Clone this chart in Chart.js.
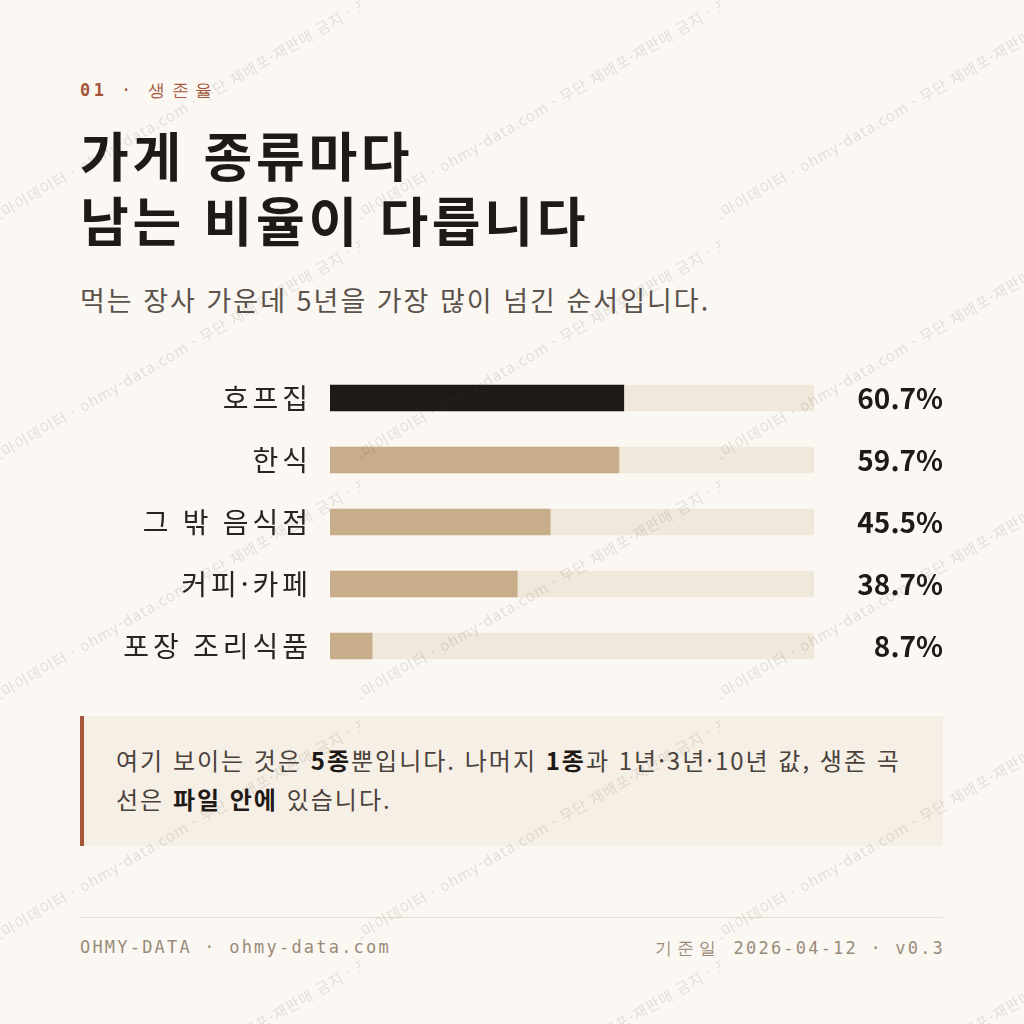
<!DOCTYPE html>
<html lang="ko">
<head>
<meta charset="UTF-8">
<meta name="viewport" content="width=device-width, initial-scale=1.0">
<title>생존율 | 가게 종류마다 남는 비율이 다릅니다</title>
<script src="https://cdn.jsdelivr.net/npm/chart.js"></script>
<style>
    html, body { margin: 0; padding: 0; }
    body {
        width: 1024px;
        height: 1024px;
        position: relative;
        overflow: hidden;
        background-color: #FBF8F3;
        font-family: 'Noto Sans CJK KR', 'Noto Sans', sans-serif;
        color: #1F1A17;
    }
    .kicker {
        position: absolute; left: 80px; top: 79px;
        font-family: 'DejaVu Sans Mono', monospace;
        font-size: 17px; letter-spacing: 0.2em; color: #A5553A;
        white-space: nowrap;
    }
    .kicker b { font-weight: 700; }
    .kicker .ko { letter-spacing: 6.5px; }
    h1 {
        position: absolute; left: 80px; top: 122px; margin: 0;
        font-size: 53px; line-height: 65px; font-weight: 700;
        color: #1F1A17; letter-spacing: 3.7px;
    }
    .subtitle {
        position: absolute; left: 80px; top: 282px; margin: 0;
        font-size: 27px; line-height: 36px; color: #5A524B;
        letter-spacing: 2px; white-space: nowrap;
    }
    .chart-wrap {
        position: absolute; left: 80px; top: 367px;
        width: 863px; height: 310px;
    }
    .note {
        position: absolute; left: 80px; top: 716px;
        width: 863px; height: 130px; box-sizing: border-box;
        padding: 24px 30px 0 32px;
        background: #F6EFE6; border-left: 4px solid #A5553A;
        font-size: 24px; line-height: 39px; color: #4A423B;
        letter-spacing: 2px;
    }
    .note b { color: #1F1A17; font-weight: 700; }
    .rule {
        position: absolute; left: 80px; top: 917px;
        width: 863px; height: 1px; background: #E7DFD4;
    }
    .footer {
        position: absolute; top: 937px;
        font-family: 'DejaVu Sans Mono', monospace;
        font-size: 17px; letter-spacing: 2.2px; color: #9A8B78;
        white-space: nowrap;
    }
    .footer.left { left: 80px; }
    .footer.right { right: 79px; }
    .footer .ko { letter-spacing: 5px; }
    .wm-layer { position: absolute; inset: 0; pointer-events: none; z-index: 5; }
    .wm-tile { position: absolute; width: 360px; height: 240px; overflow: hidden; }
    .wm-tile span {
        position: absolute; left: -16px; top: 210px;
        transform-origin: 0 0; transform: rotate(-30deg);
        font-size: 15px; letter-spacing: 1px;
        color: rgba(80, 70, 60, 0.14); white-space: nowrap;
    }
</style>
</head>
<body>

    <div class="kicker"><b>01</b> · <span class="ko">생존율</span></div>
    <h1>가게 종류마다<br>남는 비율이 다릅니다</h1>
    <p class="subtitle">먹는 장사 가운데 5년을 가장 많이 넘긴 순서입니다.</p>

    <div class="chart-wrap"><canvas id="survivalChart"></canvas></div>

    <div class="note">여기 보이는 것은 <b>5종</b>뿐입니다. 나머지 <b>1종</b>과 1년·3년·10년 값, 생존 곡선은 <b>파일 안에</b> 있습니다.</div>

    <div class="rule"></div>
    <div class="footer left">OHMY-DATA · ohmy-data.com</div>
    <div class="footer right"><span class="ko">기준일</span> 2026-04-12 · v0.3</div>

    <div class="wm-layer" id="wm"></div>

<script>
    // 데이터
    const categories = ['호프집', '한식', '그 밖 음식점', '커피·카페', '포장 조리식품'];
    const survival5y = [60.7, 59.7, 45.5, 38.7, 8.7];
    const trackValues = [100, 100, 100, 100, 100];
    const valueLabels = ['60.7%', '59.7%', '45.5%', '38.7%', '8.7%'];

    const colors = {
        top: '#1F1A17',
        bar: '#C8AD8B',
        track: '#F1E8DC',
        label: '#2A2420',
        value: '#1F1A17'
    };

    // 워터마크
    const wmText = '오마이데이터 · ohmy-data.com · 무단 재배포·재판매 금지 · 표본';
    const wm = document.getElementById('wm');
    for (let row = 0; row < 5; row++) {
        for (let col = 0; col < 3; col++) {
            const tile = document.createElement('div');
            tile.className = 'wm-tile';
            tile.style.left = (col * 360) + 'px';
            tile.style.top = (row * 240) + 'px';
            const s = document.createElement('span');
            s.textContent = wmText;
            tile.appendChild(s);
            wm.appendChild(tile);
        }
    }

    // 왼쪽 라벨만 자간을 넓힘 (값 라벨은 ticks.z:1 이라 데이터셋 뒤에 그려짐)
    const labelSpacing = {
        id: 'labelSpacing',
        beforeDraw(chart) { chart.ctx.letterSpacing = '4px'; },
        afterDatasetsDraw(chart) { chart.ctx.letterSpacing = '0px'; }
    };

    const noPad = s => { s.paddingTop = 0; s.paddingBottom = 0; };

    const ctx = document.getElementById('survivalChart').getContext('2d');
    new Chart(ctx, {
        type: 'bar',
        data: {
            labels: categories,
            datasets: [
                {
                    label: '5년 생존율',
                    data: survival5y,
                    backgroundColor: categories.map((c, i) => i === 0 ? colors.top : colors.bar),
                    barThickness: 26,
                    grouped: false,
                    borderWidth: 0,
                    order: 0
                },
                {
                    label: '전체',
                    data: trackValues,
                    backgroundColor: colors.track,
                    barThickness: 26,
                    grouped: false,
                    borderWidth: 0,
                    order: 1
                }
            ]
        },
        options: {
            indexAxis: 'y',
            responsive: true,
            maintainAspectRatio: false,
            animation: false,
            layout: { padding: 0 },
            plugins: {
                legend: { display: false },
                tooltip: { enabled: false }
            },
            scales: {
                x: { display: false, min: 0, max: 100 },
                y: {
                    position: 'left',
                    grid: { display: false, drawTicks: false },
                    border: { display: false },
                    ticks: {
                        padding: 18,
                        color: colors.label,
                        font: { family: "'Noto Sans CJK KR'", size: 28, weight: '400' }
                    },
                    afterFit: s => { s.width = 250; noPad(s); }
                },
                y2: {
                    type: 'category',
                    position: 'right',
                    labels: valueLabels,
                    offset: true,
                    grid: { display: false, drawTicks: false },
                    border: { display: false },
                    ticks: {
                        z: 1,
                        crossAlign: 'far',
                        color: colors.value,
                        font: { family: "'Noto Sans CJK KR'", size: 28, weight: '700' }
                    },
                    afterFit: s => { s.width = 129; noPad(s); }
                }
            }
        },
        plugins: [labelSpacing]
    });
</script>

</body>
</html>
